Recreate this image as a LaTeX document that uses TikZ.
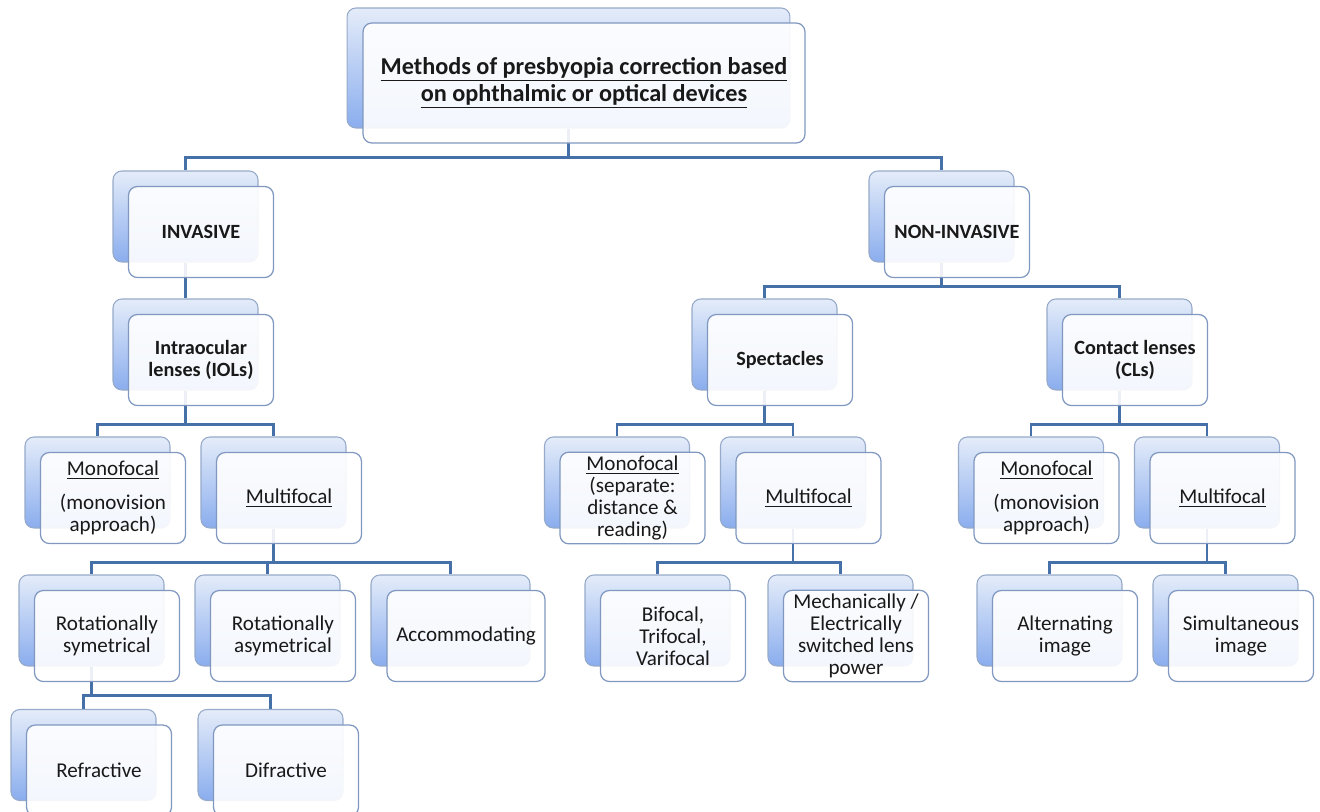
\documentclass[tikz,border=0pt]{standalone}
\usepackage{fontspec}
\setmainfont{Carlito}
\usepackage{tikz}

\definecolor{linkblue}{RGB}{70,112,168}
\definecolor{backedge}{RGB}{150,170,202}
\definecolor{backtop}{RGB}{228,236,249}
\definecolor{backbot}{RGB}{138,173,238}
\definecolor{frontedge}{RGB}{128,152,192}
\definecolor{txt}{RGB}{25,25,25}

\tikzset{
  backbox/.style={draw=backedge, line width=0.6pt, rounded corners=5pt,
    top color=backtop, bottom color=backbot,
    minimum width=2.9cm, minimum height=1.82cm, inner sep=0pt},
  frontbox/.style={draw=frontedge, line width=0.7pt, rounded corners=5pt,
    fill=white, fill opacity=0.9, text opacity=1, text=txt,
    minimum width=2.9cm, minimum height=1.82cm, inner sep=2pt, align=center,
    font=\fontsize{12}{12.6}\selectfont},
  headbox/.style={frontbox, font=\bfseries\fontsize{11.5}{12.8}\selectfont},
  link/.style={draw=linkblue, line width=1.4pt},
}

\begin{document}
\begin{tikzpicture}[x=0.02cm, y=-0.02cm]
        \useasboundingbox (0, 0) rectangle (1320, 812);

        % back boxes
        \node[backbox, minimum width=8.86cm, minimum height=2.4cm] (top) at (568.5, 68) {};
        \node[backbox] (inv) at (185.5, 216.5) {};
        \node[backbox] (noninv) at (941.5, 216.5) {};
        \node[backbox] (iol) at (185.5, 344.5) {};
        \node[backbox] (spec) at (764.5, 344.5) {};
        \node[backbox] (cl) at (1119.5, 344.5) {};
        \node[backbox] (iolmono) at (97.5, 482.5) {};
        \node[backbox] (iolmulti) at (273.5, 482.5) {};
        \node[backbox] (specmono) at (617, 482.5) {};
        \node[backbox] (specmulti) at (793, 482.5) {};
        \node[backbox] (clmono) at (1031, 482.5) {};
        \node[backbox] (clmulti) at (1207, 482.5) {};
        \node[backbox] (rotsym) at (91.5, 620.5) {};
        \node[backbox] (rotasym) at (267.5, 620.5) {};
        \node[backbox, minimum width=3.18cm] (accom) at (450.5, 620.5) {};
        \node[backbox] (bifocal) at (657.5, 620.5) {};
        \node[backbox] (switched) at (840.5, 620.5) {};
        \node[backbox] (altimg) at (1049.5, 620.5) {};
        \node[backbox] (simimg) at (1225.5, 620.5) {};
        \node[backbox] (refr) at (83.5, 755) {};
        \node[backbox] (difr) at (270.5, 755) {};

        % connectors
        \draw[link] (top.south) -- ++(0, 29) coordinate (j1);
        \draw[link] (inv.north) |- (j1) -| (noninv.north);
        \draw[link] (inv.south) -- (iol.north);
        \draw[link] (noninv.south) -- ++(0, 24) coordinate (j2);
        \draw[link] (spec.north) |- (j2) -| (cl.north);
        \draw[link] (iol.south) -- ++(0, 34) coordinate (j3);
        \draw[link] (iolmono.north) |- (j3) -| (iolmulti.north);
        \draw[link] (iolmulti.south) -- ++(0, 34) coordinate (j4);
        \draw[link] (rotsym.north) |- (j4) -| (accom.north);
        \draw[link] (rotasym.north) -- (rotasym.north |- j4);
        \draw[link] (rotsym.south) -- ++(0, 29) coordinate (j5);
        \draw[link] (refr.north) |- (j5) -| (difr.north);
        \draw[link] (spec.south) -- ++(0, 34) coordinate (j6);
        \draw[link] (specmono.north) |- (j6) -| (specmulti.north);
        \draw[link] (specmulti.south) -- ++(0, 34) coordinate (j7);
        \draw[link] (bifocal.north) |- (j7) -| (switched.north);
        \draw[link] (cl.south) -- ++(0, 34) coordinate (j8);
        \draw[link] (clmono.north) |- (j8) -| (clmulti.north);
        \draw[link] (clmulti.south) -- ++(0, 34) coordinate (j9);
        \draw[link] (altimg.north) |- (j9) -| (simimg.north);

        % front boxes with the texts
        \node[headbox, minimum width=8.84cm, minimum height=2.4cm,
            font=\bfseries\fontsize{13.8}{15.4}\selectfont] (top-f) at ([shift={(15.5, 15)}]top.center)
            {\underline{Methods of presbyopia correction based}\\\underline{on ophthalmic or optical devices}};
        \node[headbox] (inv-f) at ([shift={(15.5, 15.5)}]inv.center) {INVASIVE};
        \node[headbox] (noninv-f) at ([shift={(15.5, 15.5)}]noninv.center) {NON-INVASIVE};
        \node[headbox] (iol-f) at ([shift={(15.5, 15.5)}]iol.center) {Intraocular\\lenses (IOLs)};
        \node[headbox] (spec-f) at ([shift={(15.5, 15.5)}]spec.center) {Spectacles};
        \node[headbox] (cl-f) at ([shift={(15.5, 15.5)}]cl.center) {Contact lenses\\(CLs)};

        \node[frontbox] (iolmono-f) at ([shift={(15.5, 15.5)}]iolmono.center)
            {\underline{Monofocal}\\[7pt](monovision\\approach)};
        \node[frontbox] (iolmulti-f) at ([shift={(15.5, 15.5)}]iolmulti.center) {\underline{Multifocal}};
        \node[frontbox] (specmono-f) at ([shift={(15.5, 15.5)}]specmono.center)
            {\underline{Monofocal}\\(separate:\\distance \&\\reading)};
        \node[frontbox] (specmulti-f) at ([shift={(15.5, 15.5)}]specmulti.center) {\underline{Multifocal}};
        \node[frontbox] (clmono-f) at ([shift={(15.5, 15.5)}]clmono.center)
            {\underline{Monofocal}\\[7pt](monovision\\approach)};
        \node[frontbox] (clmulti-f) at ([shift={(15.5, 15.5)}]clmulti.center) {\underline{Multifocal}};

        \node[frontbox] (rotsym-f) at ([shift={(15.5, 15.5)}]rotsym.center) {Rotationally\\symetrical};
        \node[frontbox] (rotasym-f) at ([shift={(15.5, 15.5)}]rotasym.center) {Rotationally\\asymetrical};
        \node[frontbox, minimum width=3.16cm] (accom-f) at ([shift={(15.5, 15.5)}]accom.center) {Accommodating};
        \node[frontbox] (bifocal-f) at ([shift={(15.5, 15.5)}]bifocal.center) {Bifocal,\\Trifocal,\\Varifocal};
        \node[frontbox] (switched-f) at ([shift={(15.5, 15.5)}]switched.center)
            {Mechanically /\\Electrically\\switched lens\\power};
        \node[frontbox] (altimg-f) at ([shift={(15.5, 15.5)}]altimg.center) {Alternating\\image};
        \node[frontbox] (simimg-f) at ([shift={(15.5, 15.5)}]simimg.center) {Simultaneous\\image};

        \node[frontbox] (refr-f) at ([shift={(15.5, 15.5)}]refr.center) {Refractive};
        \node[frontbox] (difr-f) at ([shift={(15.5, 15.5)}]difr.center) {Difractive};
\end{tikzpicture}
\end{document}
